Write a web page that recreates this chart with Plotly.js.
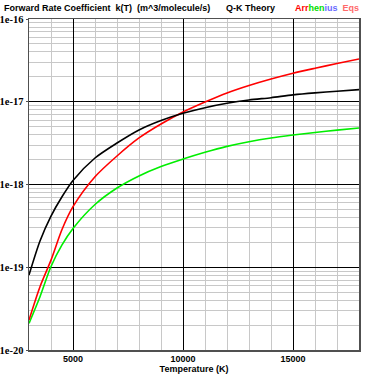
<!DOCTYPE html>
<html>
<head>
<meta charset="utf-8">
<script src="https://cdn.plot.ly/plotly-3.0.1.min.js"></script>
<style>html,body{margin:0;padding:0;background:#fff;}#chart{width:373px;height:375px;}</style>
</head>
<body>
<div id="chart"></div>
<script>
// Temperature (K)
var temperature = [3000, 3500, 4000, 4500, 5000, 6000, 7000, 8000, 9000, 10000, 11000, 12000, 13000, 14000, 15000, 16000, 17000, 18000];
// Q-K theory (black)
var qkTheory = [8.06e-20, 2.08e-19, 4.16e-19, 7.12e-19, 1.12e-18, 2.09e-18, 3.17e-18, 4.56e-18, 5.93e-18, 7.25e-18, 8.48e-18, 9.58e-18, 1.05e-17, 1.12e-17, 1.21e-17, 1.28e-17, 1.34e-17, 1.40e-17];
// Arrhenius (red)
var arrheniusRed = [2.30e-20, 5.82e-20, 1.22e-19, 2.86e-19, 5.39e-19, 1.24e-18, 2.21e-18, 3.65e-18, 5.38e-18, 7.52e-18, 9.93e-18, 1.28e-17, 1.57e-17, 1.88e-17, 2.21e-17, 2.54e-17, 2.90e-17, 3.29e-17];
// Arrhenius (green)
var arrheniusGreen = [2.10e-20, 4.41e-20, 1.02e-19, 1.86e-19, 2.94e-19, 5.73e-19, 9.07e-19, 1.27e-18, 1.65e-18, 2.03e-18, 2.45e-18, 2.89e-18, 3.29e-18, 3.65e-18, 3.96e-18, 4.26e-18, 4.54e-18, 4.82e-18];

var xTickVals = [5000, 10000, 15000];
var xTickText = ['5000', '10000', '15000'];
var yTickVals = [1e-20, 1e-19, 1e-18, 1e-17, 1e-16];
var yTickText = ['1e-20', '1e-19', '1e-18', '1e-17', '1e-16'];

var yMinor = [];
for (var e = -20; e < -16; e++) {
  for (var m = 2; m <= 9; m++) yMinor.push(m * Math.pow(10, e));
}

function series(y, color) {
  return {x: temperature, y: y, type: 'scatter', mode: 'lines',
          line: {color: color, width: 1.6, shape: 'spline', smoothing: 0.8},
          hoverinfo: 'skip', showlegend: false};
}

var data = [
  series(arrheniusGreen, '#00ee00'),
  series(arrheniusRed, '#ff0000'),
  series(qkTheory, '#000000')
];

var nb = '\u00a0';
var sans = 'Liberation Sans, Arial, sans-serif';
var layout = {
  width: 373, height: 375,
  margin: {l: 29, r: 14, t: 19, b: 25},
  paper_bgcolor: '#ffffff', plot_bgcolor: '#ffffff',
  showlegend: false,
  xaxis: {
    range: [3000, 18000],
    tickvals: xTickVals, ticktext: xTickText,
    showgrid: true, gridcolor: '#000000', gridwidth: 1,
    minor: {dtick: 1000, tick0: 0, showgrid: true, gridcolor: '#c8c8c8', gridwidth: 1, ticks: ''},
    showline: true, mirror: true, linecolor: '#505050', linewidth: 1.5,
    ticks: '', zeroline: false,
    tickfont: {family: sans, size: 9, color: '#000', weight: 'bold'},
    title: {text: 'Temperature (K)', font: {family: sans, size: 9, color: '#000', weight: 'bold'}, standoff: 2}
  },
  yaxis: {
    type: 'log',
    range: [-20, -16],
    tickvals: yTickVals, ticktext: yTickText,
    showgrid: true, gridcolor: '#000000', gridwidth: 1,
    minor: {tickvals: yMinor, showgrid: true, gridcolor: '#c8c8c8', gridwidth: 1, ticks: ''},
    showline: true, mirror: true, linecolor: '#505050', linewidth: 1.5,
    ticks: 'outside', ticklen: 2, tickcolor: '#505050',
    zeroline: false,
    tickfont: {family: 'Liberation Serif, serif', size: 10.5, color: '#000', weight: 'bold'}
  },
  annotations: [
    {xref: 'paper', yref: 'paper', x: -29/330, y: 1, yshift: 11, xanchor: 'left', yanchor: 'middle', xshift: 2,
     showarrow: false,
     text: 'Forward Rate Coefficient' + nb + nb + 'k(T)' + nb + nb + '(m^3/molecule/s)',
     font: {family: sans, size: 9, color: '#000', weight: 'bold'}},
    {xref: 'paper', yref: 'paper', x: (224-29)/330, y: 1, yshift: 11, xanchor: 'left', yanchor: 'middle',
     showarrow: false, text: 'Q-K Theory',
     font: {family: sans, size: 9, color: '#000', weight: 'bold'}},
    {xref: 'paper', yref: 'paper', x: 1, xshift: 2, y: 1, yshift: 11, xanchor: 'right', yanchor: 'middle',
     showarrow: false,
     text: '<span style="color:#ff0000">Arr</span><span style="color:#00dd00">hen</span><span style="color:#6a6aff">ius</span>' + nb + nb + '<span style="color:#ff6a6a">Eqs</span>',
     font: {family: sans, size: 9, color: '#000', weight: 'bold'}}
  ]
};

Plotly.newPlot('chart', data, layout, {staticPlot: true, displayModeBar: false});
</script>
</body>
</html>
